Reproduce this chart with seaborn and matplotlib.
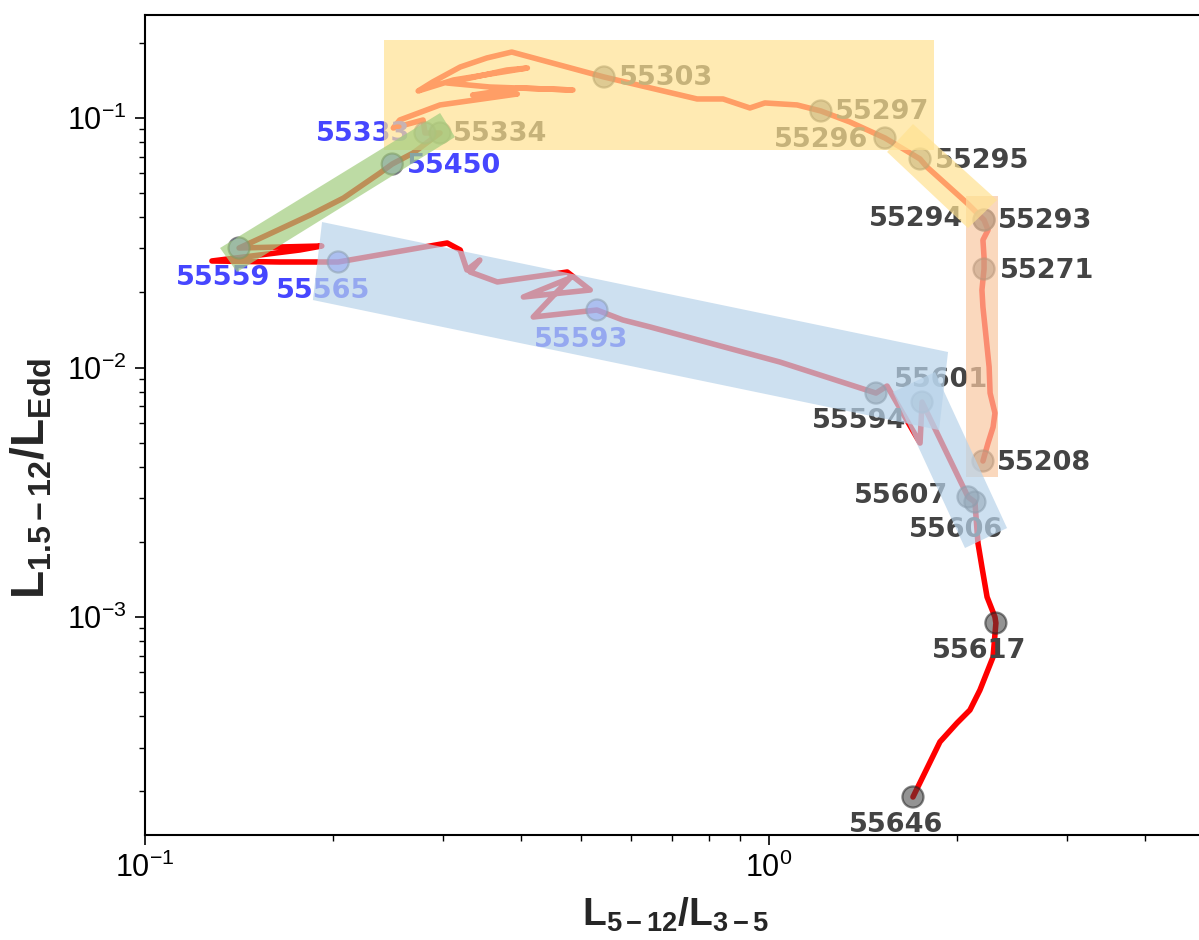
import numpy as np
import pandas as pd
import seaborn as sns
import matplotlib.pyplot as plt
from matplotlib.ticker import NullFormatter

# track of the outburst in the hardness-luminosity plane (time ordered)
track_x = [2.202, 2.244, 2.286, 2.302, 2.261, 2.253, 2.236, 2.219, 2.202, 2.194,
           2.211, 2.211, 2.202, 2.244, 2.211, 2.076, 1.791, 1.746, 1.683, 1.534,
           1.348, 1.211, 1.109, 0.985, 0.932, 0.844, 0.767, 0.544, 0.387, 0.353,
           0.320, 0.289, 0.274, 0.312, 0.410, 0.380, 0.305, 0.357, 0.485, 0.399,
           0.335, 0.395, 0.297, 0.256, 0.250, 0.279, 0.281, 0.297, 0.269, 0.249,
           0.238, 0.208, 0.184, 0.157, 0.1415, 0.192, 0.177, 0.128, 0.1645, 0.204,
           0.305, 0.320, 0.328, 0.344, 0.332, 0.367, 0.475, 0.517, 0.404, 0.480,
           0.419, 0.530, 0.583, 0.645, 1.041, 1.484, 1.546, 1.746, 1.759, 2.084,
           2.138, 2.162, 2.194, 2.236, 2.302, 2.310, 2.286, 2.178, 2.099, 2.001,
           1.879, 1.701]
track_y = [4.22e-3, 4.98e-3, 5.77e-3, 6.57e-3, 7.90e-3, 1.005e-2, 1.209e-2, 1.454e-2, 1.748e-2, 2.045e-2,
           2.482e-2, 2.773e-2, 3.243e-2, 3.557e-2, 3.902e-2, 4.563e-2, 6.363e-2, 6.851e-2, 7.241e-2, 8.314e-2,
           9.638e-2, 0.1067, 0.1128, 0.1149, 0.1097, 0.1192, 0.1192, 0.1460, 0.1838, 0.1740,
           0.1601, 0.1394, 0.1283, 0.1420, 0.1586, 0.1557, 0.1381, 0.1331, 0.1295, 0.1319,
           0.1236, 0.1248, 0.1128, 0.09817, 0.09120, 0.09817, 0.08709, 0.08709, 0.07241, 0.06539,
           0.06021, 0.04778, 0.04086, 0.03397, 0.03013, 0.03069, 0.02958, 0.02673, 0.02648, 0.02648,
           0.03155, 0.02958, 0.02460, 0.02697, 0.02414, 0.02202, 0.02414, 0.02045, 0.01917, 0.02284,
           0.01594, 0.01700, 0.01551, 0.01454, 0.01052, 0.00790, 0.00843, 0.00498, 0.00727, 0.00303,
           0.00289, 0.00198, 0.001586, 0.001203, 0.001000, 0.000946, 0.000692, 0.000510, 0.000424, 0.000376,
           0.000316, 0.000190]

# labelled epochs (MJD)
mjd = ['55208', '55271', '55293', '55294', '55295', '55296', '55297', '55303', '55333', '55334',
       '55450', '55559', '55565', '55593', '55594', '55601', '55606', '55607', '55617', '55646']
mjd_x = [2.202, 2.211, 2.211, 2.211, 1.746, 1.534, 1.211, 0.544, 0.281, 0.297,
         0.249, 0.1415, 0.204, 0.530, 1.484, 1.759, 2.138, 2.084, 2.310, 1.701]
mjd_y = [4.22e-3, 2.482e-2, 3.902e-2, 3.902e-2, 6.851e-2, 8.314e-2, 0.1067, 0.1460, 0.08709, 0.08709,
         0.06539, 0.03013, 0.02648, 0.01700, 0.00790, 0.00727, 0.00289, 0.00303, 0.000946, 0.000190]
mjd_group = ['k', 'k', 'k', 'k', 'k', 'k', 'k', 'k', 'b', 'k',
             'b', 'b', 'b', 'b', 'k', 'k', 'k', 'k', 'k', 'k']

# shaded state regions (corners in data units)
box_yellow_x = [0.2415, 1.838, 1.838, 0.2415]
box_yellow_y = [0.2056, 0.2056, 0.0744, 0.0744]
box_yellow2_x = [1.546, 1.701, 2.320, 2.084]
box_yellow2_y = [0.0731, 0.0946, 0.0469, 0.0362]
box_peach_x = [2.069, 2.328, 2.328, 2.069]
box_peach_y = [0.0487, 0.0487, 0.00364, 0.00364]
box_green_x = [0.1319, 0.2971, 0.3139, 0.1404]
box_green_y = [0.03013, 0.1047, 0.0839, 0.02414]
box_blue_x = [0.1922, 1.936, 1.873, 0.1858]
box_blue_y = [0.03829, 0.01154, 0.005616, 0.01864]
box_blue2_x = [1.580, 1.845, 2.407, 2.061]
box_blue2_y = [0.007975, 0.009594, 0.002273, 0.001891]

# label offsets in pixels (dx, dy up) and alignment
offsets = {'55208': (14, 1, 'left'), '55271': (16, 1, 'left'), '55293': (14, 2, 'left'),
           '55294': (-21, 4, 'right'), '55295': (15, 1, 'left'), '55296': (-17, 1, 'right'),
           '55297': (14, 2, 'left'), '55303': (15, 2, 'left'), '55333': (-15, 2, 'right'),
           '55334': (13, 2, 'left'), '55450': (15, 1, 'left'), '55559': (-16, -27, 'center'),
           '55565': (-15, -26, 'center'), '55593': (-16, -27, 'center'), '55594': (-17, -25, 'center'),
           '55601': (19, 25, 'center'), '55606': (-19, -25, 'center'), '55607': (-20, 4, 'right'),
           '55617': (-17, -25, 'center'), '55646': (-17, -25, 'center')}

sns.set_style("ticks")
plt.rcParams['font.family'] = ['Liberation Sans', 'DejaVu Sans']
plt.rcParams['mathtext.fontset'] = 'custom'
plt.rcParams['mathtext.rm'] = 'Liberation Sans'
plt.rcParams['mathtext.it'] = 'Liberation Sans:italic'
plt.rcParams['mathtext.bf'] = 'Liberation Sans:bold'
plt.rcParams['mathtext.sf'] = 'Liberation Sans'

track = pd.DataFrame({'x': track_x, 'y': track_y})
pts = pd.DataFrame({'x': mjd_x, 'y': mjd_y, 'group': mjd_group, 'mjd': mjd})

fig = plt.figure(figsize=(11.99, 9.4), dpi=100)
ax = fig.add_axes([145 / 1199, 105 / 940, 1065 / 1199, 820 / 940])
ax.set_xscale('log')
ax.set_yscale('log')

# red track, then epoch markers and labels; the shaded regions go on top
sns.lineplot(data=track, x='x', y='y', sort=False, estimator=None, color='#ff0000',
             lw=4.0, ax=ax, zorder=1)
sns.scatterplot(data=pts, x='x', y='y', hue='group', palette={'k': '#3a3a3a', 'b': '#3b3bff'},
                s=230, alpha=0.55, edgecolor='#222222', linewidth=1.6, legend=False, ax=ax, zorder=2)

for lab, xx, yy, g in zip(mjd, mjd_x, mjd_y, mjd_group):
    dx, dy, ha = offsets[lab]
    ax.annotate(lab, xy=(xx, yy), xytext=(dx * 0.72, dy * 0.72), textcoords='offset points',
                ha=ha, va='center_baseline', fontsize=19.5, fontweight='bold', family='DejaVu Sans',
                color='#4646ff' if g == 'b' else '#444444', zorder=3)

ax.fill(box_yellow_x, box_yellow_y, color='#FFE292', alpha=0.7, lw=0, zorder=4)
ax.fill(box_peach_x, box_peach_y, color='#F8C8A2', alpha=0.7, lw=0, zorder=4)
ax.fill(box_yellow2_x, box_yellow2_y, color='#FFE292', alpha=0.7, lw=0, zorder=4)
ax.fill(box_green_x, box_green_y, color='#A2CD7E', alpha=0.7, lw=0, zorder=4)
ax.fill(box_blue_x, box_blue_y, color='#B8D3EA', alpha=0.7, lw=0, zorder=4)
ax.fill(box_blue2_x, box_blue2_y, color='#B8D3EA', alpha=0.7, lw=0, zorder=4)

ax.set_xlim(0.1, 5.09)
ax.set_ylim(1.338e-4, 0.2587)
ax.xaxis.set_minor_formatter(NullFormatter())
ax.yaxis.set_minor_formatter(NullFormatter())

for sp in ax.spines.values():
    sp.set_color('k')
    sp.set_linewidth(1.5)
ax.tick_params(which='major', length=7, width=1.2, colors='k', labelsize=22, pad=6)
ax.tick_params(which='minor', length=4, width=1.0, colors='k')

ax.set_xlabel(r'$\mathbf{L_{5-12}/L_{3-5}}$', fontsize=28)
ax.set_ylabel(r'$\mathbf{L_{1.5-12}/L_{Edd}}$', fontsize=33)
ax.xaxis.set_label_coords(0.498, -0.074)
ax.yaxis.set_label_coords(-0.085, 0.435)

fig.savefig('out.png', dpi=100)
